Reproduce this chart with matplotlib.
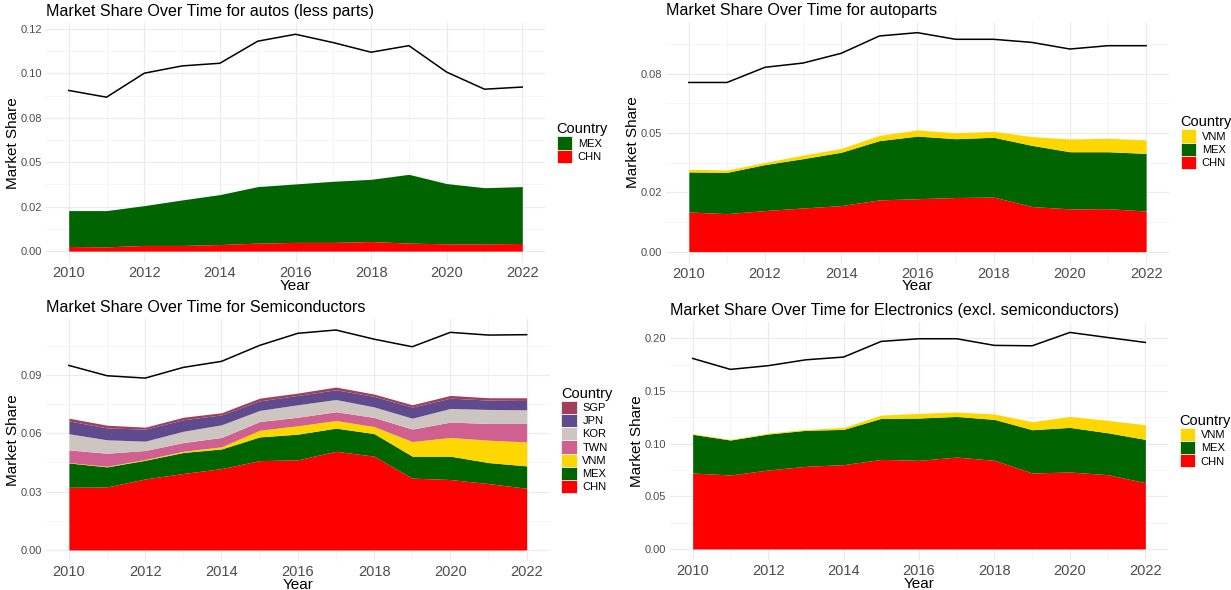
import numpy as np
import matplotlib
matplotlib.use("Agg")
import matplotlib.pyplot as plt
from matplotlib.patches import Patch

plt.rcParams['font.family'] = ['Liberation Sans', 'DejaVu Sans']

years = list(range(2010, 2023))

# country colours
colors = {
    "CHN": "#FF0000",
    "MEX": "#006400",
    "VNM": "#FFD700",
    "TWN": "#D0608F",
    "KOR": "#CDC6C0",
    "JPN": "#5E4A8C",
    "SGP": "#A0405A",
}

# autos (less parts)
autos_chn = [0.0026, 0.0024, 0.0032, 0.0032, 0.0037, 0.0045, 0.0049, 0.0049, 0.0054, 0.0045, 0.0041, 0.0041, 0.0043]
autos_mex = [0.0202, 0.0204, 0.0224, 0.0256, 0.0281, 0.0318, 0.0329, 0.0344, 0.0350, 0.0387, 0.0339, 0.0316, 0.0320]
autos_total = [0.0904, 0.0866, 0.1001, 0.1042, 0.1057, 0.1181, 0.1220, 0.1173, 0.1119, 0.1156, 0.1007, 0.0911, 0.0923]

# autoparts
parts_chn = [0.0167, 0.0160, 0.0173, 0.0184, 0.0194, 0.0218, 0.0223, 0.0228, 0.0230, 0.0190, 0.0180, 0.0181, 0.0171]
parts_mex = [0.0169, 0.0174, 0.0194, 0.0208, 0.0225, 0.0250, 0.0264, 0.0248, 0.0252, 0.0258, 0.0241, 0.0240, 0.0243]
parts_vnm = [0.0011, 0.0010, 0.0009, 0.0015, 0.0016, 0.0022, 0.0026, 0.0025, 0.0025, 0.0037, 0.0054, 0.0057, 0.0057]
parts_total = [0.0713, 0.0713, 0.0777, 0.0795, 0.0836, 0.0909, 0.0923, 0.0895, 0.0895, 0.0882, 0.0854, 0.0868, 0.0868]

# semiconductors
semi_chn = [0.0322, 0.0324, 0.0365, 0.0393, 0.0418, 0.0459, 0.0463, 0.0507, 0.0482, 0.0369, 0.0362, 0.0341, 0.0317]
semi_mex = [0.0125, 0.0103, 0.0096, 0.0108, 0.0101, 0.0122, 0.0132, 0.0119, 0.0116, 0.0113, 0.0120, 0.0108, 0.0115]
semi_vnm = [0.0002, 0.0003, 0.0004, 0.0006, 0.0011, 0.0034, 0.0043, 0.0039, 0.0036, 0.0075, 0.0096, 0.0115, 0.0123]
semi_twn = [0.0065, 0.0067, 0.0046, 0.0045, 0.0048, 0.0045, 0.0044, 0.0045, 0.0047, 0.0064, 0.0079, 0.0086, 0.0095]
semi_kor = [0.0083, 0.0069, 0.0048, 0.0058, 0.0065, 0.0057, 0.0064, 0.0063, 0.0054, 0.0056, 0.0070, 0.0072, 0.0070]
semi_jpn = [0.0066, 0.0061, 0.0062, 0.0059, 0.0051, 0.0049, 0.0048, 0.0050, 0.0054, 0.0057, 0.0053, 0.0048, 0.0048]
semi_sgp = [0.0014, 0.0014, 0.0010, 0.0013, 0.0011, 0.0014, 0.0012, 0.0014, 0.0012, 0.0012, 0.0014, 0.0012, 0.0014]
semi_total = [0.0948, 0.0895, 0.0883, 0.0938, 0.0969, 0.1051, 0.1113, 0.1130, 0.1083, 0.1044, 0.1118, 0.1104, 0.1106]

# electronics (excl. semiconductors)
elec_chn = [0.0722, 0.0703, 0.0750, 0.0785, 0.0801, 0.0851, 0.0842, 0.0873, 0.0842, 0.0722, 0.0731, 0.0706, 0.0630]
elec_mex = [0.0367, 0.0332, 0.0342, 0.0342, 0.0335, 0.0390, 0.0402, 0.0386, 0.0389, 0.0411, 0.0424, 0.0398, 0.0411]
elec_vnm = [0.0006, 0.0006, 0.0009, 0.0009, 0.0019, 0.0031, 0.0044, 0.0042, 0.0051, 0.0076, 0.0104, 0.0118, 0.0139]
elec_total = [0.1810, 0.1706, 0.1741, 0.1797, 0.1823, 0.1972, 0.1997, 0.1997, 0.1934, 0.1930, 0.2057, 0.2009, 0.1962]

# y ticks and their (rounded) labels as printed on the chart
autos_yticks = [0, 0.025, 0.05, 0.075, 0.1, 0.125]
autos_ylabels = ["0.00", "0.02", "0.05", "0.08", "0.10", "0.12"]
parts_yticks = [0, 0.025, 0.05, 0.075]
parts_ylabels = ["0.00", "0.02", "0.05", "0.08"]
semi_yticks = [0, 0.03, 0.06, 0.09]
semi_ylabels = ["0.00", "0.03", "0.06", "0.09"]
elec_yticks = [0, 0.05, 0.10, 0.15, 0.20]
elec_ylabels = ["0.00", "0.05", "0.10", "0.15", "0.20"]

panels = [
    ("Market Share Over Time for autos (less parts)",
     [("CHN", autos_chn), ("MEX", autos_mex)], autos_total,
     autos_yticks, autos_ylabels, [0.0374, 0.556, 0.4053, 0.4043]),
    ("Market Share Over Time for autoparts",
     [("CHN", parts_chn), ("MEX", parts_mex), ("VNM", parts_vnm)], parts_total,
     parts_yticks, parts_ylabels, [0.541, 0.555, 0.4086, 0.4082]),
    ("Market Share Over Time for Semiconductors",
     [("CHN", semi_chn), ("MEX", semi_mex), ("VNM", semi_vnm), ("TWN", semi_twn),
      ("KOR", semi_kor), ("JPN", semi_jpn), ("SGP", semi_sgp)], semi_total,
     semi_yticks, semi_ylabels, [0.0374, 0.0492, 0.409, 0.4101]),
    ("Market Share Over Time for Electronics (excl. semiconductors)",
     [("CHN", elec_chn), ("MEX", elec_mex), ("VNM", elec_vnm)], elec_total,
     elec_yticks, elec_ylabels, [0.5443, 0.0512, 0.4045, 0.4037]),
]

fig = plt.figure(figsize=(12.31, 5.90), dpi=100)

for title, series, total, yticks, ylabels, pos in panels:
    ax = fig.add_axes(pos)
    base = np.zeros(len(years))
    for name, vals in series:
        top = base + np.array(vals)
        ax.fill_between(years, base, top, color=colors[name], linewidth=0)
        base = top
    ax.plot(years, total, color="black", lw=1.1)

    ymax = max(total)
    ax.set_xlim(2010 - 0.6, 2022 + 0.6)
    ax.set_ylim(-0.05 * ymax, ymax * 1.05)
    ax.set_xticks(range(2010, 2023, 2))
    ax.set_xticks(range(2011, 2022, 2), minor=True)
    ax.set_yticks(yticks)
    ax.set_yticklabels(ylabels)
    mids = [(a + b) / 2 for a, b in zip(yticks[:-1], yticks[1:])]
    if yticks[-1] + (yticks[1] - yticks[0]) / 2 < ymax * 1.05:
        mids.append(yticks[-1] + (yticks[1] - yticks[0]) / 2)
    ax.set_yticks(mids, minor=True)
    ax.grid(True, which="major", color="#EBEBEB", lw=0.8)
    ax.grid(True, which="minor", color="#F4F4F4", lw=0.6)
    ax.set_axisbelow(True)
    for s in ax.spines.values():
        s.set_visible(False)
    ax.tick_params(which="both", length=0)
    ax.tick_params(axis="x", labelsize=10.5, labelcolor="#4D4D4D", pad=3)
    ax.tick_params(axis="y", labelsize=8, labelcolor="#4D4D4D", pad=3)
    ax.set_xlabel("Year", fontsize=11, labelpad=-1)
    ax.set_ylabel("Market Share", fontsize=11, labelpad=0)
    ax.set_title(title, fontsize=11.6, loc="left", pad=5)

    handles = [Patch(facecolor=colors[n], edgecolor="white", lw=0.5, label=n)
               for n, _ in reversed(series)]
    leg = ax.legend(handles=handles, title="Country", loc="center left",
                    bbox_to_anchor=(1.01, 0.5), frameon=False, fontsize=8,
                    title_fontsize=10.5, handlelength=1.4, handleheight=1.45,
                    labelspacing=0.0, handletextpad=0.5, borderaxespad=0.2)
    leg._legend_box.align = "left"

fig.savefig("out.png", dpi=100)
